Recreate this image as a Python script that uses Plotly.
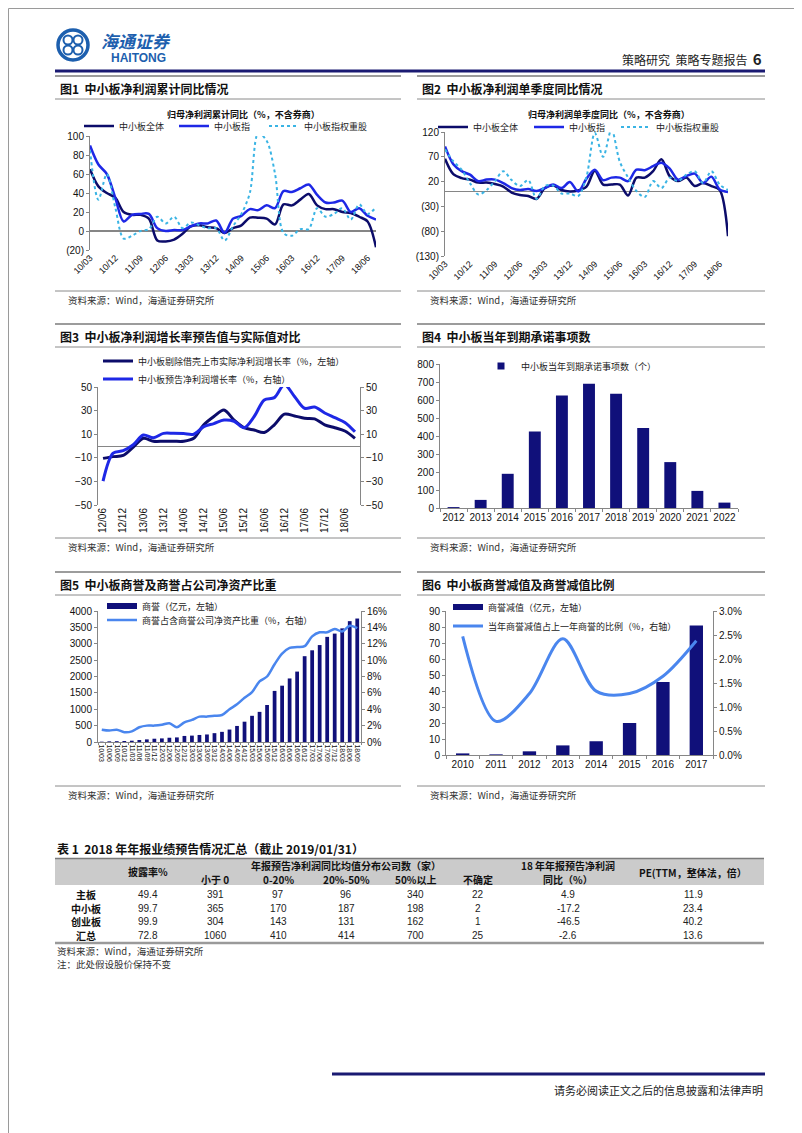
import plotly.graph_objects as go

W, H = 802, 1133
def X(px): return px / W
def Y(py): return 1 - py / H

CN = "Noto Sans CJK SC"
NUM = "Liberation Sans, Arial, Noto Sans CJK SC"
NAVY = "#0c0c6a"
BLUE = "#1e28e6"
CYAN = "#3ab4e4"
LBLUE = "#4a86ee"
BARNAVY = "#10107a"
AX = "#868686"
LOGO = "#1d5fae"

# ---------------- data ----------------
quarters = ["10/03", "10/06", "10/09", "10/12", "11/03", "11/06", "11/09", "11/12",
            "12/03", "12/06", "12/09", "12/12", "13/03", "13/06", "13/09", "13/12",
            "14/03", "14/06", "14/09", "14/12", "15/03", "15/06", "15/09", "15/12",
            "16/03", "16/06", "16/09", "16/12", "17/03", "17/06", "17/09", "17/12",
            "18/03", "18/06", "18/09"]
ticks_c12 = ["10/03", "10/12", "11/09", "12/06", "13/03", "13/12", "14/09", "15/06",
             "16/03", "16/12", "17/09", "18/06"]

# Fig 1: cumulative YoY (%)
c1_total = [65, 47, 40, 35, 20, 17, 17, 13, -10, -11, -9, -3, 5, 6, 4, 3, -2, 3, 6, 14,
            14, 13, 7, 28, 27, 33, 39, 27, 23, 23, 20, 19, 15, 10, -17]
c1_index = [90, 70, 60, 35, 10, 17, 18, 18, 3, 0, 1, 1, 5, 8, 8, 11, -2, 13, 16, 23,
            22, 27, 24, 42, 41, 45, 49, 38, 30, 30, 32, 20, 24, 16, 12]
c1_weight = [85, 33, 60, 25, -8, -5, 0, 2, 15, 8, 15, 3, 9, 6, 3, 3, -10, 5, 18, 40,
             103, 95, 60, -2, -5, 2, 2, 24, 15, 18, 24, 12, 28, 18, 25]
c1_yticks = [-20, 0, 20, 40, 60, 80, 100]
c1_yticktext = ["(20)", "0", "20", "40", "60", "80", "100"]

# Fig 2: single-quarter YoY (%)
c2_total = [66, 35, 27, 24, 18, 18, 15, 10, -2, -7, -9, -15, 7, 12, 3, 0, 2, 10, 42, 14,
            14, 14, -8, 28, 28, 41, 65, 31, 21, 28, 11, 17, 11, 3, -90]
c2_index = [91, 55, 41, 34, 21, 24, 24, 17, 7, 3, 5, 1, 7, 14, 7, 19, 0, 26, 44, 23,
            28, 28, 21, 44, 43, 51, 58, 46, 24, 31, 36, 17, 30, 4, -1]
c2_weight = [85, 61, 44, 17, -6, 3, 21, 41, 23, 11, 23, -15, 11, 12, -4, -4, -9, 30, 118, 70,
             125, 60, 28, 1, -11, 21, 7, 28, 21, 34, 41, 17, 41, 14, 3]
c2_yticks = [-130, -80, -30, 20, 70, 120]
c2_yticktext = ["(130)", "(80)", "(30)", "20", "70", "120"]

# Fig 3: forecast vs actual growth (%)
quarters3 = ["12/06", "12/09", "12/12", "13/03", "13/06", "13/09", "13/12", "14/03",
             "14/06", "14/09", "14/12", "15/03", "15/06", "15/09", "15/12", "16/03",
             "16/06", "16/09", "16/12", "17/03", "17/06", "17/09", "17/12", "18/03",
             "18/06", "18/09"]
ticks_c3 = ["12/06", "12/12", "13/06", "13/12", "14/06", "14/12", "15/06", "15/12",
            "16/06", "16/12", "17/06", "17/12", "18/06"]
c3_actual = [-10.5, -9, -8, -1, 6.5, 4, 4, 4, 4, 6.5, 18, 25, 30.5, 22, 15.5, 13.5,
             11.5, 18, 27, 25.5, 23.5, 23, 18, 15.5, 12.7, 6.5]
c3_forecast = [-29.7, -6, -4, 1, 9.3, 7, 10.7, 10.7, 10.5, 10, 16.4, 19, 22, 21, 15.5, 25,
               39, 41, 52, 42, 32, 33, 28, 24, 20, 12]

# Fig 4: commitments due per year
years4 = ["2012", "2013", "2014", "2015", "2016", "2017", "2018", "2019", "2020", "2021", "2022"]
commit = [5, 45, 190, 425, 625, 690, 635, 445, 255, 95, 30]

# Fig 5: goodwill (100m CNY) and ratio to net assets (%)
goodwill = [10, 20, 25, 30, 40, 60, 80, 100, 110, 130, 140, 185, 195, 215, 230, 270, 310, 380,
            490, 620, 800, 920, 1130, 1560, 1720, 1940, 2150, 2620, 2800, 2960, 3210, 3310,
            3470, 3690, 3770]
gw_ratio = [1.5, 1.4, 1.5, 1.2, 1.3, 1.8, 2.0, 2.0, 2.1, 2.3, 1.8, 2.4, 2.7, 3.1, 3.1, 3.2,
            3.3, 4.0, 4.6, 5.4, 6.1, 7.4, 8.0, 9.5, 10.8, 11.5, 11.6, 11.7, 12.9, 13.4, 13.4,
            13.8, 13.5, 14.2, 13.9]

# Fig 6: goodwill impairment
years6 = ["2010", "2011", "2012", "2013", "2014", "2015", "2016", "2017"]
impair = [1, 0.4, 2.3, 6, 8.6, 20, 45.6, 81]
impair_ratio = [0.0247, 0.0070, 0.0128, 0.0242, 0.0133, 0.0128, 0.0164, 0.0238]

# Table 1
tbl_rows = ["主板", "中小板", "创业板", "汇总"]
tbl_disclose = [49.4, 99.7, 99.9, 72.8]
tbl_lt0 = [391, 365, 304, 1060]
tbl_0_20 = [97, 170, 143, 410]
tbl_20_50 = [96, 187, 131, 414]
tbl_gt50 = [340, 198, 162, 700]
tbl_unsure = [22, 2, 1, 25]
tbl_yoy = [4.9, -17.2, -46.5, -2.6]
tbl_pe = [11.9, 23.4, 40.2, 13.6]

# ---------------- figure ----------------
fig = go.Figure()

def sline(x, y, color, width, name, xa, ya, legend, dash="solid"):
    return go.Scatter(x=x, y=y, mode="lines", name=name, xaxis=xa, yaxis=ya, legend=legend,
                      line=dict(color=color, width=width, shape="spline", smoothing=0.9, dash=dash),
                      hoverinfo="skip")

# Fig 1
fig.add_trace(sline(quarters, c1_total, NAVY, 2.5, "中小板全体", "x", "y", "legend"))
fig.add_trace(sline(quarters, c1_index, BLUE, 2.5, "中小板指", "x", "y", "legend2"))
fig.add_trace(sline(quarters, c1_weight, CYAN, 2, "中小板指权重股", "x", "y", "legend3", "dot"))
# Fig 2
fig.add_trace(sline(quarters, c2_total, NAVY, 2.5, "中小板全体", "x2", "y2", "legend4"))
fig.add_trace(sline(quarters, c2_index, BLUE, 2.5, "中小板指", "x2", "y2", "legend5"))
fig.add_trace(sline(quarters, c2_weight, CYAN, 2, "中小板指权重股", "x2", "y2", "legend6", "dot"))
# Fig 3
fig.add_trace(sline(quarters3, c3_actual, NAVY, 3, "中小板剔除借壳上市实际净利润增长率（%，左轴）", "x3", "y3", "legend7"))
fig.add_trace(sline(quarters3, c3_forecast, BLUE, 3, "中小板预告净利润增长率（%，右轴）", "x3", "y4", "legend8"))
# Fig 4
fig.add_trace(go.Bar(x=years4, y=commit, width=0.44, marker=dict(color=BARNAVY, line=dict(width=0)),
                     name="中小板当年到期承诺事项数（个）", xaxis="x4", yaxis="y5", showlegend=False,
                     hoverinfo="skip"))
fig.add_trace(go.Scatter(x=[None], y=[None], mode="markers",
                         marker=dict(color=BARNAVY, symbol="square", size=7),
                         name="中小板当年到期承诺事项数（个）", xaxis="x4", yaxis="y5", legend="legend9"))
# Fig 5
fig.add_trace(go.Bar(x=quarters, y=goodwill, width=0.5, marker=dict(color=BARNAVY, line=dict(width=0)),
                     name="商誉（亿元，左轴）", xaxis="x5", yaxis="y6", showlegend=False, hoverinfo="skip"))
fig.add_trace(go.Scatter(x=[None], y=[None], mode="lines", line=dict(color=BARNAVY, width=6),
                         name="商誉（亿元，左轴）", xaxis="x5", yaxis="y6", legend="legend10"))
fig.add_trace(sline(quarters, gw_ratio, LBLUE, 2.5, "商誉占含商誉公司净资产比重（%，右轴）", "x5", "y7", "legend11"))
# Fig 6
fig.add_trace(go.Bar(x=years6, y=impair, width=0.4, marker=dict(color=BARNAVY, line=dict(width=0)),
                     name="商誉减值（亿元，左轴）", xaxis="x6", yaxis="y8", showlegend=False, hoverinfo="skip"))
fig.add_trace(go.Scatter(x=[None], y=[None], mode="lines", line=dict(color=BARNAVY, width=6),
                         name="商誉减值（亿元，左轴）", xaxis="x6", yaxis="y8", legend="legend12"))
fig.add_trace(sline(years6, impair_ratio, LBLUE, 3, "当年商誉减值占上一年商誉的比例（%，右轴）", "x6", "y9", "legend13"))

# ---------------- axes ----------------
def xd(a, b): return [X(a), X(b)]
def yd(top, bottom): return [Y(bottom), Y(top)]

tf_num = dict(family=NUM, size=10, color="#111")
tf_small = dict(family=NUM, size=9, color="#111")

def yax(dom, rng, anchor, **kw):
    d = dict(domain=dom, range=rng, anchor=anchor, showgrid=False, showline=True, linecolor=AX,
             linewidth=1, ticks="outside", ticklen=3, tickcolor=AX, tickfont=tf_num, zeroline=False,
             fixedrange=True, automargin=False)
    d.update(kw)
    return d

def xax(dom, rng, anchor, **kw):
    d = dict(domain=dom, range=rng, anchor=anchor, type="category", showgrid=False, zeroline=False,
             tickfont=tf_small, fixedrange=True, automargin=False)
    d.update(kw)
    return d

layout = dict(
    template="none",
    width=W, height=H, autosize=False, margin=dict(l=0, r=0, t=0, b=0, pad=0, autoexpand=False),
    paper_bgcolor="white", plot_bgcolor="white", showlegend=True,
    font=dict(family=CN, size=10, color="#111"),
    # Fig 1
    xaxis=xax(xd(82, 368), [0, 34], "y", tickvals=ticks_c12, tickangle=-45, showline=False, ticks=""),
    yaxis=yax(yd(128, 242), [-20, 100], "x", tickvals=c1_yticks, ticktext=c1_yticktext,
              zeroline=True, zerolinecolor=AX, zerolinewidth=1.5),
    # Fig 2
    xaxis2=xax(xd(437, 720), [0, 34], "y2", tickvals=ticks_c12, tickangle=-45, showline=False, ticks=""),
    yaxis2=yax(yd(124, 248), [-130, 120], "x2", tickvals=c2_yticks, ticktext=c2_yticktext,
               zeroline=True, zerolinecolor=AX, zerolinewidth=1.5),
    # Fig 3
    xaxis3=xax(xd(90, 352), [-0.5, 25.5], "y3", tickvals=ticks_c3, tickangle=-90, showline=False,
               ticks="", tickfont=dict(family=NUM, size=10, color="#111")),
    yaxis3=yax(yd(379, 497), [-50, 50], "x3", tickvals=[-50, -30, -10, 10, 30, 50],
               zeroline=True, zerolinecolor=AX, zerolinewidth=1),
    yaxis4=yax(yd(379, 497), [-50, 50], "x3", overlaying="y3", side="right",
               tickvals=[-50, -30, -10, 10, 30, 50]),
    # Fig 4
    xaxis4=xax(xd(432, 730), [-0.5, 10.5], "y5", showline=True, linecolor=AX, ticks="outside",
               ticklen=3, tickcolor=AX, tickson="boundaries", tickangle=0,
               tickfont=dict(family=NUM, size=10, color="#111")),
    yaxis5=yax(yd(356, 500), [0, 800], "x4", dtick=100, tick0=0),
    # Fig 5
    xaxis5=xax(xd(90, 353), [-0.5, 34.5], "y6", showline=True, linecolor=AX, ticks="outside",
               ticklen=2, tickcolor=AX, tickson="boundaries", tickangle=90,
               tickfont=dict(family=NUM, size=7, color="#111"), dtick=1),
    yaxis6=yax(yd(603, 734), [0, 4000], "x5", dtick=500, tick0=0),
    yaxis7=yax(yd(603, 734), [0, 16], "x5", overlaying="y6", side="right", dtick=2, tick0=0,
               ticksuffix="%"),
    # Fig 6
    xaxis6=xax(xd(438, 705), [-0.5, 7.5], "y8", showline=True, linecolor=AX, ticks="outside",
               ticklen=3, tickcolor=AX, tickson="boundaries", tickangle=0, tickfont=tf_num),
    yaxis8=yax(yd(603, 747), [0, 90], "x6", dtick=10, tick0=0),
    yaxis9=yax(yd(603, 747), [0, 0.03], "x6", overlaying="y8", side="right", dtick=0.005, tick0=0,
               tickformat=".1%"),
)

def leg(x_px, y_px, size=9):
    return dict(x=X(x_px), y=Y(y_px), xanchor="left", yanchor="middle", orientation="h",
                bgcolor="rgba(0,0,0,0)", borderwidth=0, itemwidth=30,
                font=dict(family=CN, size=size, color="#222"))

legend_pos = {
    "legend": (71, 118), "legend2": (166, 118), "legend3": (256, 118),
    "legend4": (425, 119), "legend5": (521, 119), "legend6": (608, 119),
    "legend7": (90, 353), "legend8": (90, 371),
    "legend9": (473, 358),
    "legend10": (94, 598), "legend11": (94, 612),
    "legend12": (440, 599), "legend13": (440, 618),
}
for k, (lx, ly) in legend_pos.items():
    layout[k] = leg(lx, ly)

fig.update_layout(**layout)

# ---------------- decorations ----------------
shapes = []
ann = []

def hline(x0, x1, y, color, width):
    shapes.append(dict(type="line", xref="paper", yref="paper", x0=X(x0), x1=X(x1), y0=Y(y), y1=Y(y),
                       line=dict(color=color, width=width)))

def text(x, y, s, size=10, anchor="left", weight="normal", color="#111", family=CN):
    ann.append(dict(x=X(x), y=Y(y), xref="paper", yref="paper", text=s, showarrow=False,
                    xanchor=anchor, yanchor="middle",
                    font=dict(family=family, size=size, color=color, weight=weight)))

# page border
shapes.append(dict(type="rect", xref="paper", yref="paper", x0=X(0.5), x1=X(801.5), y0=Y(0.5), y1=Y(1132.5),
                   line=dict(color="#9a9a9a", width=1)))

# logo
cx, cy, r = 65, 37, 15
shapes.append(dict(type="circle", xref="paper", yref="paper", x0=X(cx - r), x1=X(cx + r),
                   y0=Y(cy + r), y1=Y(cy - r), line=dict(color=LOGO, width=3.5)))
for dx, dy in [(-5, -5), (5, -5), (-5, 5), (5, 5)]:
    rr = 4.5
    shapes.append(dict(type="circle", xref="paper", yref="paper", x0=X(cx + dx - rr), x1=X(cx + dx + rr),
                       y0=Y(cy + dy + rr), y1=Y(cy + dy - rr), line=dict(color=LOGO, width=2)))
text(91, 33, "<i>海通证券</i>", size=17, weight="bold", color=LOGO)
text(101, 50, "HAITONG", size=12, weight="bold", color=LOGO, family=NUM)

# header
text(756, 50, "策略研究  策略专题报告  <span style='font-size:15px'><b>6</b></span>", size=12,
     anchor="right", color="#222")
hline(47, 757, 63, "#1a1a72", 3)

# footer
hline(324, 757, 1066, "#1a1a72", 3)
text(757, 1082, "请务必阅读正文之后的信息披露和法律声明", size=11, anchor="right", color="#222")

# panel frames
panels = [(47, 393), (409, 757)]
rows = [(68, 80, 91, 283, 292), (316, 328, 339, 530, 539), (564, 576, 587, 778, 787)]
titles = [["图1  中小板净利润累计同比情况", "图2  中小板净利润单季度同比情况"],
          ["图3  中小板净利润增长率预告值与实际值对比", "图4  中小板当年到期承诺事项数"],
          ["图5  中小板商誉及商誉占公司净资产比重", "图6  中小板商誉减值及商誉减值比例"]]
for ri, (ytop, ytitle, yline, ysrc, ysrct) in enumerate(rows):
    for pi, (xa, xb) in enumerate(panels):
        hline(xa, xb, ytop, "#9c9c9c", 2)
        hline(xa, xb, yline, "#8a8a8a", 1)
        hline(xa, xb, ysrc, "#8a8a8a", 1)
        text(xa + 3, ytitle, titles[ri][pi], size=12, weight="bold", color="#111")
        text(xa + 11, ysrct, "资料来源：Wind，海通证券研究所", size=9.5, color="#333")

# chart subtitles
text(235, 106, "归母净利润累计同比（%，不含券商）", size=9, anchor="center", weight="bold")
text(601, 107, "归母净利润单季度同比（%，不含券商）", size=9, anchor="center", weight="bold")

# table
text(47, 840, "表 1  2018 年年报业绩预告情况汇总（截止 2019/01/31）", size=12, weight="bold")
shapes.append(dict(type="rect", xref="paper", yref="paper", x0=X(47), x1=X(756), y0=Y(877), y1=Y(851),
                   fillcolor="#cbcbcb", line=dict(width=0), layer="below"))
hline(47, 756, 850.5, "#7a7a7a", 1.5)
hline(47, 756, 935, "#9a9a9a", 2.5)

text(140, 863, "披露率%", size=10, anchor="center", weight="bold")
text(338, 857, "年报预告净利润同比均值分布公司数（家）", size=10, anchor="center", weight="bold")
sub_heads = [(207, "小于 0"), (270, "0-20%"), (338, "20%-50%"), (408, "50%以上"), (470, "不确定")]
for hx, hs in sub_heads:
    text(hx, 871, hs, size=10, anchor="center", weight="bold")
text(560, 857, "18 年年报预告净利润", size=10, anchor="center", weight="bold")
text(560, 871, "同比（%）", size=10, anchor="center", weight="bold")
text(685, 864, "PE(TTM，整体法，倍）", size=10, anchor="center", weight="bold")

tbl_cols = [tbl_disclose, tbl_lt0, tbl_0_20, tbl_20_50, tbl_gt50, tbl_unsure, tbl_yoy, tbl_pe]
tbl_xs = [140, 207, 270, 338, 408, 470, 560, 685]
tbl_ys = [886, 900, 913, 927]
for i, name in enumerate(tbl_rows):
    text(78, tbl_ys[i], name, size=10, anchor="center", weight="bold")
    for cx_, col in zip(tbl_xs, tbl_cols):
        v = col[i]
        s = f"{v:.1f}" if isinstance(v, float) else str(v)
        text(cx_, tbl_ys[i], s, size=10, anchor="center", family=NUM, color="#222")

text(47, 943, "资料来源：Wind，海通证券研究所", size=9.5, color="#333")
text(47, 956, "注：此处假设股价保持不变", size=9.5, color="#333")

fig.update_layout(shapes=shapes, annotations=ann)
fig.write_html("out.html", config={"displayModeBar": False, "staticPlot": True})
